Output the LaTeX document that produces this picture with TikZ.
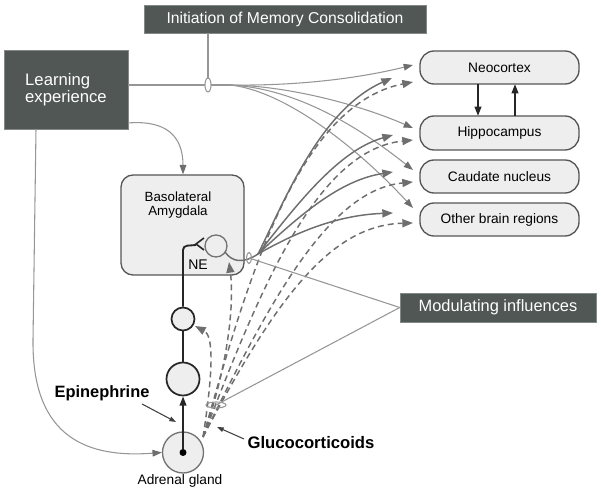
\documentclass[tikz,border=0pt]{standalone}
\usepackage{fontspec}
\setmainfont{Liberation Sans}
\usetikzlibrary{arrows.meta}
\definecolor{darkbox}{RGB}{80,87,85}
\definecolor{lightfill}{RGB}{238,238,238}
\definecolor{edgegray}{RGB}{85,85,85}
\definecolor{thin}{RGB}{150,150,150}
\definecolor{fan}{RGB}{110,110,110}
\newcommand{\fs}[1]{\fontsize{#1}{#1*1.2}\selectfont}
\tikzset{
  darkbox/.style={fill=darkbox, draw=darkbox!70, text=white, inner sep=0pt},
  region/.style={draw=edgegray, fill=lightfill, line width=1pt, rounded corners=10.5pt,
     minimum width={159*0.75pt}, inner sep=0pt, font=\fs{10.3pt}},
  thinline/.style={draw=thin, line width=0.8pt, -{Triangle[length=7pt,width=5pt,fill=fan,color=fan]}},
  fanline/.style={draw=fan, line width=1.1pt, -{Triangle[length=8pt,width=6pt]}},
  dashline/.style={draw=fan, line width=1.1pt, dash pattern=on 4.5pt off 3pt, -{Triangle[length=8pt,width=6pt]}},
  blackline/.style={draw=black!85, line width=1.4pt},
  neuron/.style={circle, draw=black!85, fill=lightfill, line width=1.3pt, inner sep=0pt},
}
\begin{document}
\begin{tikzpicture}[x=0.75pt,y=-0.75pt]
\useasboundingbox (0,0) rectangle (601,495);

% dark boxes
\node[darkbox, minimum width={282*0.75pt}, minimum height={28*0.75pt}, font=\fs{11.8pt}] (init) at (285,19) {Initiation of Memory Consolidation};
\node[darkbox, minimum width={124*0.75pt}, minimum height={79*0.75pt}, align=left, font=\fs{12.5pt}] (learn) at (66,90) {Learning\\experience};
\node[darkbox, minimum width={196*0.75pt}, minimum height={29*0.75pt}, font=\fs{12.3pt}] (mod) at (498,307.5) {Modulating influences};

% brain regions
\node[region, minimum height={33*0.75pt}] (neo) at (499.5,67.5) {Neocortex};
\node[region, minimum height={34*0.75pt}] (hip) at (499.5,133) {Hippocampus};
\node[region, minimum height={33*0.75pt}] (cau) at (499.5,176.5) {Caudate nucleus};
\node[region, minimum height={33*0.75pt}] (oth) at (499.5,219.5) {Other brain regions};

\draw[blackline, -{Triangle[length=7pt,width=5pt]}] (478,84) -- (478,116);
\draw[blackline, -{Triangle[length=7pt,width=5pt]}] (515,116) -- (515,84);

% amygdala
\node[draw=edgegray, fill=lightfill, line width=1pt, rounded corners=9pt, minimum width={123*0.75pt}, minimum height={100*0.75pt}] (bla) at (182.5,225) {};
\node[align=center, font=\fs{10pt}] (blatext) at (178,205) {Basolateral\\Amygdala};
\node[font=\fs{10.5pt}] (ne) at (198,265) {NE};

% neurons
\node[neuron, draw=gray!90!black, minimum size={22*0.75pt}, line width=1pt] (n1) at (216,246) {};
\node[neuron, minimum size={23*0.75pt}] (n2) at (183,319) {};
\node[neuron, minimum size={33*0.75pt}] (n3) at (183,379) {};
\node[neuron, draw=gray!90!black, line width=1pt, minimum size={41*0.75pt}] (adr) at (183,452.5) {};
\node[circle, fill=black, minimum size={7*0.75pt}, inner sep=0pt] (dot) at (183,452.5) {};
\node[font=\fs{10.3pt}] (adrlab) at (180,481) {Adrenal gland};

% black pathway
\draw[blackline, -{Triangle[length=7pt,width=5pt]}] (dot) -- (n3.south);
\draw[blackline] (n3.north) -- (n2.south);
\draw[blackline, rounded corners=3pt] (n2.north) -- (183,246) -- (196,245);
\draw[draw=black!85, line width=1.2pt] (204,238) -- (196,244) -- (204,250);

% labels
\node[font=\bfseries\fs{12.3pt}] (epi) at (102,393) {Epinephrine};
\node[font=\bfseries\fs{12.5pt}] (glu) at (311,443) {Glucocorticoids};
\coordinate (epitip) at (176,422);
\coordinate (epistart) at (142,404);
\coordinate (glustart) at (244,439);
\coordinate (glutip) at (217,427);
\draw[draw=black!75, line width=0.8pt, -{Triangle[length=5pt,width=3.5pt]}] (epistart) -- (epitip);
\draw[draw=black!75, line width=0.8pt, -{Triangle[length=5pt,width=3.5pt]}] (glustart) -- (glutip);

% initiation line and learning lines
\coordinate (L) at (230,85);
\coordinate (E1) at (208,85);
\draw[draw=thin, line width=0.8pt] (init.south -| E1) -- (E1);
\draw[draw=thin, line width=0.8pt] (learn.east |- L) -- (L);
\draw[draw=thin, line width=0.8pt, fill=white] (E1) ellipse (3 and 7);
\draw[thinline] (L) .. controls (300,86) and (360,78) .. (413,65);
\draw[thinline] (L) .. controls (290,86) and (360,105) .. (413,128);
\draw[thinline] (L) .. controls (290,88) and (350,120) .. (413,170);
\draw[thinline] (L) .. controls (280,90) and (350,140) .. (413,208);

% learning -> amygdala, learning -> adrenal
\draw[thinline] (128,123) .. controls (165,120) and (183,135) .. (bla.north -| 183,0);
\draw[thinline] (36,129) -- (33,340) .. controls (32,440) and (90,458) .. (adr.west);

% NE fan
\coordinate (F) at (258,254);
\draw[draw=fan, line width=1.1pt] (225,252) .. controls (232,262) and (243,264) .. (F);
\draw[fanline] (F) .. controls (285,200) and (320,110) .. (392,78);
\draw[fanline] (F) .. controls (300,200) and (340,150) .. (393,135);
\draw[fanline] (F) .. controls (300,215) and (340,180) .. (393,172);
\draw[fanline] (F) .. controls (300,230) and (340,215) .. (393,213);

% glucocorticoid fan
\coordinate (G) at (203,437);
\draw[dashline] (G) .. controls (245,290) and (295,105) .. (413,82);
\draw[dashline] (G) .. controls (258,295) and (315,150) .. (413,140);
\draw[dashline] (G) .. controls (268,305) and (328,190) .. (413,182);
\draw[dashline] (G) .. controls (275,300) and (330,225) .. (413,223);
\draw[dashline] (G) .. controls (230,360) and (234,300) .. (229,262);
\draw[dashline] (G) .. controls (215,360) and (212,335) .. (195,326);

% modulating influences
\coordinate (M1) at (249,258);
\coordinate (M2) at (216,405);
\draw[draw=thin, line width=0.8pt] (mod.west) -- (M1);
\draw[draw=thin, line width=0.8pt] (mod.west) -- (M2);
\draw[draw=thin, line width=0.8pt] (M1) ellipse (2.5 and 5.5);
\draw[draw=thin, line width=0.8pt] (M2) ellipse (10 and 3);
\end{tikzpicture}
\end{document}
